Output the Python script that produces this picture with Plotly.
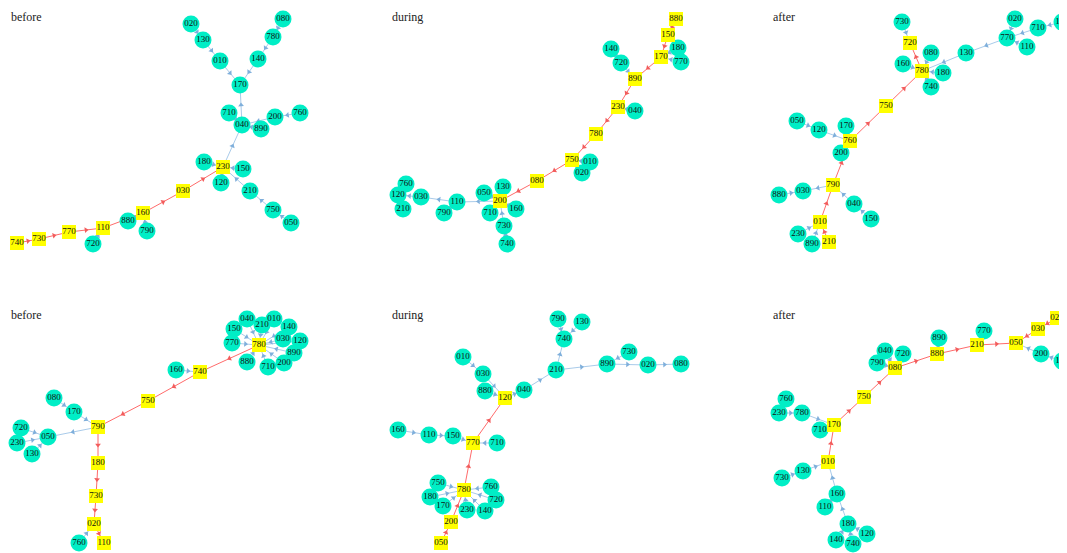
import math
import plotly.graph_objects as go

# node positions are in page pixels (x right, y down)

# ---- panel 1 : before (top)
p1_names = ['020', '130', '010', '080', '780', '140', '170', '710', '040', '890', '200', '760', '180', '230',
            '150', '120', '210', '750', '050', '030', '160', '880', '790', '110', '720', '770', '730', '740']
p1_x = [191, 203, 220, 283, 273, 258, 240, 229, 242, 261, 275, 300, 204, 223,
        243, 221, 250, 273, 291, 183, 143, 128, 147, 103, 93, 69, 39, 17]
p1_y = [24, 40, 61, 19, 37, 59, 85, 113, 125, 129, 117, 113, 162, 167,
        169, 183, 191, 210, 223, 191, 213, 221, 231, 228, 244, 232, 239, 243]
p1_squares = ['230', '030', '160', '110', '770', '730', '740']
p1_red = [('740', '730'), ('730', '770'), ('770', '110'), ('110', '160'), ('160', '030'), ('030', '230')]
p1_blue = [('020', '130'), ('130', '010'), ('010', '170'), ('080', '780'), ('780', '140'), ('140', '170'),
           ('040', '170'), ('710', '040'), ('890', '040'), ('200', '040'), ('760', '200'), ('230', '040'),
           ('180', '230'), ('150', '230'), ('120', '230'), ('210', '230'), ('750', '210'), ('050', '750'),
           ('880', '160'), ('790', '160'), ('720', '110')]

# ---- panel 2 : during (top)
p2_names = ['880', '150', '180', '170', '770', '140', '720', '890', '230', '040', '780', '750', '010', '020',
            '080', '200', '130', '050', '710', '160', '730', '740', '110', '790', '030', '760', '120', '210']
p2_x = [676, 668, 678, 661, 681, 611, 621, 635, 618, 635, 596, 572, 590, 582,
        537, 500, 503, 484, 490, 516, 504, 507, 457, 444, 421, 406, 398, 403]
p2_y = [19, 35, 48, 57, 62, 49, 63, 79, 107, 111, 134, 160, 162, 173,
        181, 201, 187, 193, 213, 209, 226, 244, 202, 213, 197, 184, 195, 209]
p2_squares = ['880', '150', '170', '890', '230', '780', '750', '080', '200']
p2_red = [('880', '150'), ('150', '170'), ('170', '890'), ('890', '230'), ('230', '780'), ('780', '750'),
          ('750', '080'), ('080', '200')]
p2_blue = [('180', '170'), ('770', '170'), ('140', '720'), ('720', '890'), ('040', '230'), ('010', '750'),
           ('020', '750'), ('130', '200'), ('050', '200'), ('710', '200'), ('160', '200'), ('730', '200'),
           ('740', '730'), ('200', '110'), ('790', '110'), ('110', '030'), ('030', '120'), ('760', '120'),
           ('210', '120')]

# ---- panel 3 : after (top)
p3_names = ['730', '720', '080', '160', '780', '180', '740', '130', '020', '770', '710', '110', '140', '750',
            '050', '120', '170', '760', '200', '790', '030', '880', '040', '150', '010', '230', '890', '210']
p3_x = [902, 910, 931, 903, 922, 943, 931, 966, 1015, 1007, 1038, 1027, 1062, 886,
        797, 819, 846, 850, 841, 833, 803, 779, 854, 871, 820, 798, 812, 829]
p3_y = [22, 43, 53, 64, 71, 73, 87, 53, 19, 38, 28, 47, 22, 106,
        121, 130, 126, 141, 153, 185, 191, 195, 204, 219, 222, 234, 244, 242]
p3_squares = ['720', '780', '750', '760', '790', '010', '210']
p3_red = [('210', '010'), ('010', '790'), ('790', '760'), ('760', '750'), ('750', '780'), ('780', '720')]
p3_blue = [('730', '720'), ('080', '780'), ('160', '780'), ('180', '780'), ('740', '780'), ('130', '780'),
           ('770', '130'), ('710', '770'), ('140', '710'), ('020', '770'), ('110', '770'), ('050', '120'),
           ('120', '760'), ('170', '760'), ('200', '760'), ('790', '030'), ('880', '030'), ('040', '790'),
           ('150', '040'), ('230', '010'), ('890', '010')]

# ---- panel 4 : before (bottom)
p4_names = ['040', '210', '010', '150', '140', '030', '120', '770', '780', '890', '880', '200', '710', '160',
            '740', '750', '080', '170', '790', '720', '050', '230', '130', '180', '730', '020', '760', '110']
p4_x = [247, 262, 274, 234, 289, 283, 300, 232, 259, 294, 247, 284, 268, 176,
        200, 148, 54, 74, 98, 21, 48, 17, 32, 98, 96, 94, 79, 104]
p4_y = [319, 325, 319, 329, 327, 339, 341, 343, 345, 353, 362, 363, 367, 370,
        372, 401, 398, 412, 427, 428, 437, 443, 454, 463, 496, 524, 543, 543]
p4_squares = ['780', '740', '750', '790', '180', '730', '020', '110']
p4_red = [('780', '740'), ('740', '750'), ('750', '790'), ('790', '180'), ('180', '730'), ('730', '020'),
          ('020', '110')]
p4_blue = [('040', '780'), ('210', '780'), ('010', '780'), ('150', '780'), ('140', '780'), ('030', '780'),
           ('120', '780'), ('770', '780'), ('890', '780'), ('880', '780'), ('200', '780'), ('710', '780'),
           ('160', '740'), ('080', '170'), ('170', '790'), ('790', '050'), ('720', '050'), ('230', '050'),
           ('130', '050'), ('760', '020')]

# ---- panel 5 : during (bottom)
p5_names = ['790', '130', '740', '010', '730', '210', '890', '020', '080', '030', '880', '040', '120', '160',
            '110', '150', '770', '710', '750', '780', '760', '180', '720', '170', '230', '140', '200', '050']
p5_x = [558, 582, 564, 463, 629, 556, 607, 648, 681, 483, 485, 524, 505, 398,
        429, 453, 473, 497, 438, 464, 491, 430, 496, 443, 467, 485, 451, 441]
p5_y = [319, 322, 339, 357, 352, 370, 364, 365, 364, 374, 391, 390, 398, 430,
        435, 436, 443, 443, 483, 490, 487, 497, 500, 506, 510, 511, 522, 543]
p5_squares = ['120', '770', '780', '200', '050']
p5_red = [('050', '200'), ('200', '780'), ('780', '770'), ('770', '120')]
p5_blue = [('010', '030'), ('030', '120'), ('880', '120'), ('120', '040'), ('040', '210'), ('210', '740'),
           ('790', '740'), ('130', '740'), ('210', '890'), ('730', '890'), ('890', '020'), ('020', '080'),
           ('160', '110'), ('110', '150'), ('150', '770'), ('710', '770'), ('750', '780'), ('180', '780'),
           ('170', '780'), ('760', '780'), ('720', '780'), ('230', '780'), ('140', '780')]

# ---- panel 6 : after (bottom)
p6_names = ['020', '030', '050', '200', '150', '770', '210', '890', '880', '040', '720', '790', '080', '750',
            '760', '230', '780', '170', '710', '010', '130', '730', '160', '110', '180', '120', '140', '740']
p6_x = [1057, 1038, 1016, 1041, 1062, 984, 977, 939, 937, 885, 903, 877, 895, 864,
        786, 779, 802, 834, 820, 828, 803, 782, 837, 825, 848, 867, 836, 853]
p6_y = [318, 329, 343, 354, 361, 331, 345, 338, 354, 351, 354, 363, 368, 397,
        399, 413, 413, 425, 430, 462, 471, 478, 494, 507, 524, 534, 540, 544]
p6_squares = ['020', '030', '050', '210', '880', '080', '750', '170', '010']
p6_red = [('020', '030'), ('030', '050'), ('210', '050'), ('880', '210'), ('080', '880'), ('750', '080'),
          ('170', '750'), ('010', '170')]
p6_blue = [('200', '050'), ('150', '200'), ('770', '210'), ('890', '880'), ('040', '080'), ('720', '080'),
           ('790', '080'), ('780', '170'), ('230', '780'), ('760', '230'), ('710', '170'), ('130', '010'),
           ('730', '130'), ('160', '010'), ('110', '160'), ('180', '160'), ('120', '180'), ('140', '180'),
           ('740', '180')]

titles = ['before', 'during', 'after', 'before', 'during', 'after']
title_x = [9, 390, 771, 9, 390, 771]
title_y = [6, 6, 6, 306, 306, 306]

panels = [
    (p1_names, p1_x, p1_y, p1_squares, p1_red, p1_blue),
    (p2_names, p2_x, p2_y, p2_squares, p2_red, p2_blue),
    (p3_names, p3_x, p3_y, p3_squares, p3_red, p3_blue),
    (p4_names, p4_x, p4_y, p4_squares, p4_red, p4_blue),
    (p5_names, p5_x, p5_y, p5_squares, p5_red, p5_blue),
    (p6_names, p6_x, p6_y, p6_squares, p6_red, p6_blue),
]

# the page body has an 8px margin, so the figure starts at (8, 8)
OFF = 8
W, H = 1067 - OFF, 553 - OFF
col_bounds = [(OFF, 355), (355, 710), (710, 1067)]
row_bounds = [(OFF, 276), (276, 553)]

CIRCLE = '#00EEC6'
SQUARE = '#FFFF00'
RED = '#FF6B6B'
BLUE = '#A9CBEA'
RED_ARROW = '#F25C5C'
BLUE_ARROW = '#7FAFDB'
FONT = 'Liberation Serif'

fig = go.Figure()


def edge_traces(pos, edges, color, arrow_color, ax, ay):
    ex, ey, mx, my, ang = [], [], [], [], []
    for a, b in edges:
        x0, y0 = pos[a]
        x1, y1 = pos[b]
        ex += [x0, x1, None]
        ey += [y0, y1, None]
        mx.append((x0 + x1) / 2)
        my.append((y0 + y1) / 2)
        # screen y runs downwards (reversed axis)
        ang.append(math.degrees(math.atan2(x1 - x0, -(y1 - y0))))
    fig.add_trace(go.Scatter(x=ex, y=ey, mode='lines', xaxis=ax, yaxis=ay, cliponaxis=False,
                             line=dict(color=color, width=1), hoverinfo='skip'))
    fig.add_trace(go.Scatter(x=mx, y=my, mode='markers', xaxis=ax, yaxis=ay, hoverinfo='skip',
                             cliponaxis=False,
                             marker=dict(symbol='triangle-up', size=5, angle=ang, color=arrow_color,
                                         line=dict(width=0))))


for i, (names, xs, ys, squares, red, blue) in enumerate(panels):
    r, c = divmod(i, 3)
    x0, x1 = col_bounds[c]
    y0, y1 = row_bounds[r]
    n = i + 1
    ax = 'x' if n == 1 else f'x{n}'
    ay = 'y' if n == 1 else f'y{n}'
    pos = {nm: (x, y) for nm, x, y in zip(names, xs, ys)}

    edge_traces(pos, blue, BLUE, BLUE_ARROW, ax, ay)
    edge_traces(pos, red, RED, RED_ARROW, ax, ay)

    circ = [nm for nm in names if nm not in squares]
    sq = [nm for nm in names if nm in squares]
    for group, sym, size, col in [(circ, 'circle', 17, CIRCLE), (sq, 'square', 14, SQUARE)]:
        fig.add_trace(go.Scatter(
            x=[pos[nm][0] for nm in group], y=[pos[nm][1] for nm in group],
            mode='markers+text', text=group, textposition='middle center',
            textfont=dict(family=FONT, size=9, color='#111111'),
            xaxis=ax, yaxis=ay, hoverinfo='text', cliponaxis=False,
            marker=dict(symbol=sym, size=size, color=col, line=dict(width=0))))

    fig.layout[f'xaxis{n if n > 1 else ""}'] = dict(
        domain=[(x0 - OFF) / W, (x1 - OFF) / W], range=[x0, x1], visible=False, fixedrange=True)
    fig.layout[f'yaxis{n if n > 1 else ""}'] = dict(
        domain=[1 - (y1 - OFF) / H, 1 - (y0 - OFF) / H], range=[y1, y0], visible=False, fixedrange=True)

    fig.add_annotation(text=titles[i], xref='paper', yref='paper',
                       x=(title_x[i] - OFF) / W, y=1 - max(title_y[i] - OFF, 0) / H,
                       xanchor='left', yanchor='top', showarrow=False,
                       font=dict(family=FONT, size=12, color='#222222'))

fig.update_layout(
    width=W, height=H,
    margin=dict(l=0, r=0, t=0, b=0),
    showlegend=False,
    plot_bgcolor='white', paper_bgcolor='white',
)

fig.write_html("out.html")
